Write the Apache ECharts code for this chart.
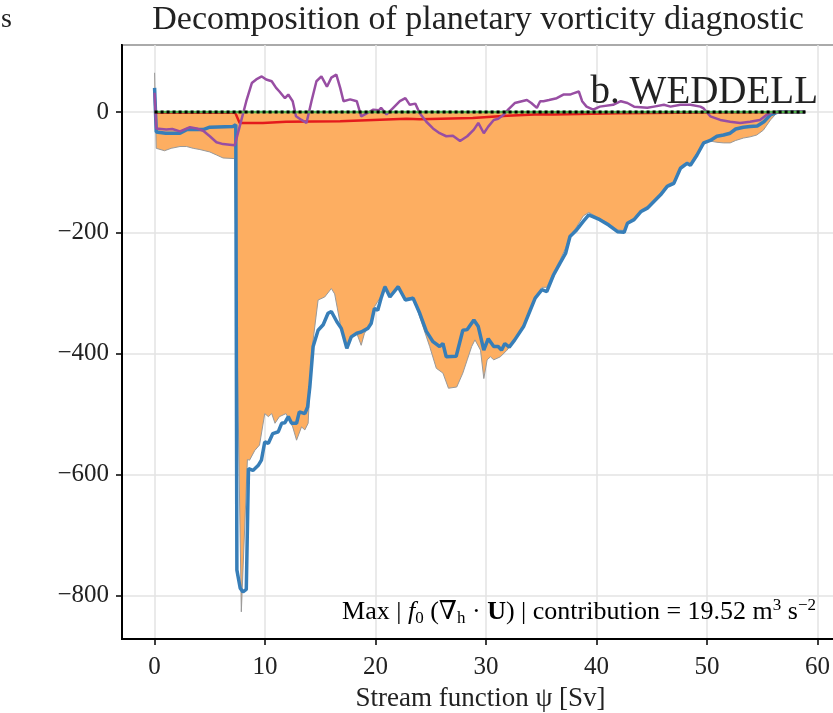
<!DOCTYPE html>
<html>
<head>
<meta charset="utf-8">
<script src="https://cdn.jsdelivr.net/npm/echarts@6/dist/echarts.min.js"></script>
<style>
  html, body { margin: 0; padding: 0; background: #ffffff; }
  #chart { width: 833px; height: 713px; }
</style>
</head>
<body>
<div id="chart"></div>
<script>
// total (orange fill, grey edge)
const psiTotal = [0, 0.15, 0.9, 1.5, 2.3, 2.9, 3.5, 4.1, 5, 5.6, 6.2, 7.25, 7.4, 7.85, 8.4, 8.6, 9.07, 9.5, 9.97, 10.3, 10.6, 10.9, 11.3, 11.9, 12.5, 12.85, 13.3, 13.6, 13.9, 14.2, 14.8, 15.4, 16.0, 16.3, 16.8, 17.4, 17.8, 18.3, 18.7, 19.0, 19.6, 19.9, 20.5, 20.85, 21.3, 22.05, 22.7, 23.4, 24.0, 24.9, 25.5, 26.1, 26.6, 27.35, 27.9, 28.3, 28.7, 29.0, 29.5, 29.8, 30.1, 30.4, 30.7, 31.3, 31.9, 32.5, 33.4, 34.0, 34.45, 35.06, 35.5, 36.1, 36.7, 37.2, 37.6, 38.2, 38.8, 39.3, 40.3, 41.1, 41.9, 42.5, 42.8, 43.4, 44.0, 44.6, 45.8, 46.4, 47.0, 47.6, 48.2, 48.5, 49.1, 49.7, 50.3, 50.9, 51.5, 52.1, 52.6, 53.3, 53.9, 54.5, 55.1, 55.75, 56.4, 58.9];
const totalVals = [65, -60, -64, -60, -57, -57, -60, -62, -66, -71, -76, -77, -300, -827, -575, -576, -560, -551, -499, -504, -499, -515, -504, -499, -521, -543, -521, -526, -515, -399, -311, -306, -292, -301, -350, -391, -372, -366, -386, -366, -350, -322, -305, -287, -303, -287, -308, -306, -339, -388, -424, -432, -457, -455, -432, -410, -388, -377, -394, -441, -410, -405, -410, -405, -394, -377, -352, -325, -305, -290, -290, -265, -245, -225, -205, -190, -172, -166, -176, -184, -195, -196, -182, -176, -162, -156, -134, -120, -115, -90, -82, -85, -68, -50, -48, -50, -51, -51, -47, -43, -41, -38, -30, -13, 0, 0];

// blue line
const psiBlue = [0, 0.15, 1, 2.3, 2.9, 4.4, 5, 7.1, 7.35, 7.45, 7.75, 8.0, 8.3, 8.5, 8.9, 9.37, 9.67, 9.97, 10.3, 10.7, 11.2, 11.5, 11.8, 12.1, 12.4, 12.85, 13.1, 13.6, 13.85, 14.05, 14.35, 14.8, 15.26, 15.7, 16.0, 16.5, 16.9, 17.4, 17.8, 18.3, 18.7, 19.3, 19.6, 19.9, 20.2, 20.5, 20.85, 21.3, 22.05, 22.7, 23.4, 24.0, 24.6, 25.2, 25.8, 26.1, 26.4, 27.3, 27.9, 28.3, 28.9, 29.3, 29.8, 30.2, 30.7, 31.1, 31.4, 31.7, 32.1, 32.6, 33.4, 34.0, 34.45, 35.06, 35.5, 36.1, 36.7, 37.2, 37.6, 38.2, 38.8, 39.3, 40.3, 41.1, 41.9, 42.5, 42.8, 43.4, 44.0, 44.6, 45.8, 46.4, 47.0, 47.6, 48.2, 48.5, 49.1, 49.7, 50.3, 50.9, 51.5, 52.1, 52.6, 53.3, 53.9, 54.55, 55.15, 55.75, 56.4, 58.9];
const blueVals = [40, -33, -35, -35, -29, -29, -25, -24, -21, -758, -788, -794, -790, -590, -593, -585, -576, -546, -548, -532, -529, -515, -514, -504, -515, -515, -496, -499, -488, -455, -388, -361, -352, -333, -330, -347, -358, -391, -372, -366, -364, -358, -350, -325, -328, -308, -289, -306, -289, -311, -308, -333, -363, -380, -388, -383, -405, -404, -361, -360, -344, -355, -394, -375, -388, -388, -394, -383, -389, -377, -355, -328, -308, -294, -297, -270, -250, -234, -206, -195, -181, -170, -178, -187, -198, -199, -184, -178, -165, -159, -137, -123, -118, -93, -85, -88, -71, -51, -47, -40, -38, -35, -28, -25, -24, -23, -16, -4.5, 0, 0];

// red line
const psiRed = [0, 7.3, 7.7, 9.8, 11.9, 16.8, 19.8, 22.8, 24, 28.8, 31.9, 34.9, 36.1, 42, 50, 58.9];
const redVals = [-1, -1, -18, -18, -16, -15, -13, -11, -12, -10, -6, -3.5, -4, -2, -0.5, 0];

// purple line
const psiPurple = [0, 0.15, 1.05, 1.6, 2.3, 3.2, 3.8, 4.4, 5.0, 5.6, 6.2, 6.8, 7.25, 7.7, 8.3, 8.8, 9.2, 9.7, 10.1, 10.6, 11.0, 11.3, 11.8, 12.1, 12.5, 12.8, 13.3, 13.75, 14.2, 14.65, 15.1, 15.6, 16.0, 16.45, 16.8, 17.1, 17.7, 18.3, 18.7, 19.2, 19.8, 20.3, 20.5, 21.0, 21.6, 22.2, 22.7, 23.1, 23.6, 24.0, 24.6, 25.2, 25.8, 26.4, 27.0, 27.65, 28.3, 28.9, 29.3, 29.8, 30.2, 30.7, 31.1, 31.6, 32.0, 32.6, 33.7, 34.1, 34.6, 34.9, 35.2, 35.7, 36.4, 37.0, 37.6, 37.9, 38.4, 38.7, 39.1, 39.7, 40.3, 41.5, 42.2, 42.8, 43.4, 44.6, 45.2, 46.1, 46.7, 47.6, 48.5, 49.4, 49.7, 50.3, 51.2, 52.1, 53.0, 53.9, 54.8, 55.4, 56.0, 58.9];
const purpleVals = [32, -27, -29, -28, -32, -25, -27, -31, -40, -50, -53, -54, -55, -24, 18, 48, 54, 59, 54, 51, 40, 34, 23, 29, 18, -7, -13, -18, 18, 51, 59, 42, 57, 62, 40, 18, 21, 18, -7, -2, 4, 3, 7, -4, 7, 18, 23, 12, 14, -2, -16, -27, -35, -40, -39, -48, -40, -29, -18, -35, -24, -13, -11, -4.5, 4, 15, 20, 15, 7, 18, 18, 20, 23, 29, 29, 31, 34, 18, 9, 4, 9, 12, 18, 15, 9, 7, 9, 12, 9, 12, 12, 9, 6, -7, -13, -16, -18, -16, -13, -4.5, 0, 0];

// zero reference lines
const psiZero = [0, 58.9];
const zeroVals = [0, 0];

const xTicks = [0, 10, 20, 30, 40, 50, 60];
const yTicks = [-800, -600, -400, -200, 0];

const zip = (xs, ys) => xs.map((x, i) => [x, ys[i]]);
const serif = '"Liberation Serif", "DejaVu Serif", serif';

const chart = echarts.init(document.getElementById('chart'));
chart.setOption({
  backgroundColor: '#ffffff',
  animation: false,
  grid: {
    left: 122, top: 45, width: 717, height: 594,
    outerBoundsMode: 'none', containLabel: false,
    show: true, borderColor: '#000', borderWidth: 2, backgroundColor: 'transparent'
  },
  xAxis: {
    type: 'value', min: -2.95, max: 61.95, splitNumber: 6,
    name: 'Stream function ψ [Sv]', nameLocation: 'middle', nameGap: 46,
    nameTextStyle: { fontFamily: serif, fontSize: 27, color: '#222' },
    axisLine: { onZero: false, lineStyle: { color: '#000', width: 2 } },
    axisTick: { length: 6, lineStyle: { color: '#000', width: 1.5 } },
    axisLabel: {
      margin: 16, fontFamily: serif, fontSize: 25, color: '#222',
      showMinLabel: false, showMaxLabel: false,
      formatter: v => xTicks.includes(v) ? String(v) : ''
    },
    splitLine: { show: true, lineStyle: { color: '#e3e3e3', width: 1.5 } }
  },
  yAxis: {
    type: 'value', min: -872, max: 111, splitNumber: 5,
    axisLine: { onZero: false, lineStyle: { color: '#000', width: 2 } },
    axisTick: { length: 6, lineStyle: { color: '#000', width: 1.5 } },
    axisLabel: {
      margin: 13, fontFamily: serif, fontSize: 25, color: '#222',
      showMinLabel: false, showMaxLabel: false,
      formatter: v => yTicks.includes(v) ? String(v).replace('-', '\u2212') : ''
    },
    splitLine: { show: true, lineStyle: { color: '#e3e3e3', width: 1.5 } }
  },
  graphic: [
    { type: 'text', x: 478, y: 37, style: { text: 'Decomposition of planetary vorticity diagnostic', font: '34px ' + serif, fill: '#222', textAlign: 'center', textVerticalAlign: 'bottom' } },
    { type: 'text', x: 1, y: 34, style: { text: 's', font: '28px ' + serif, fill: '#222', textVerticalAlign: 'bottom' } },
    { type: 'text', x: 818, y: 112, z: 100, style: { text: 'b. WEDDELL', font: '39px ' + serif, fill: '#222', textAlign: 'right', textVerticalAlign: 'bottom' } },
    { type: 'text', x: 816, y: 627, z: 100, style: {
        text: '{n|Max | }{i|f}{sub|0}{n| (∇}{sub|h}{n| · }{b|U}{n|) | contribution = 19.52 m}{sup|3}{n| s}{sup|\u22122}',
        textAlign: 'right', textVerticalAlign: 'bottom',
        rich: {
          n: { fontFamily: serif, fontSize: 26, lineHeight: 30, color: '#222', verticalAlign: 'middle' },
          i: { fontFamily: serif, fontSize: 26, lineHeight: 30, fontStyle: 'italic', color: '#222', verticalAlign: 'middle' },
          b: { fontFamily: serif, fontSize: 26, lineHeight: 30, fontWeight: 'bold', color: '#222', verticalAlign: 'middle' },
          sub: { fontFamily: serif, fontSize: 17, lineHeight: 17, color: '#222', verticalAlign: 'bottom' },
          sup: { fontFamily: serif, fontSize: 17, lineHeight: 17, color: '#222', verticalAlign: 'top' }
        }
      } }
  ],
  series: [
    { type: 'line', data: zip(psiTotal, totalVals), symbol: 'none', z: 2,
      lineStyle: { color: '#999999', width: 1 },
      areaStyle: { color: '#fdae61', opacity: 1, origin: 0 } },
    { type: 'line', data: zip(psiBlue, blueVals), symbol: 'none', z: 3,
      lineStyle: { color: '#377eb8', width: 3.5 } },
    { type: 'line', data: zip(psiRed, redVals), symbol: 'none', z: 4,
      lineStyle: { color: '#e41a1c', width: 2.5 } },
    { type: 'line', data: zip(psiPurple, purpleVals), symbol: 'none', z: 5,
      lineStyle: { color: '#984ea3', width: 2.5 } },
    { type: 'line', data: zip(psiZero, zeroVals), symbol: 'none', z: 6,
      lineStyle: { color: '#4daf4a', width: 2.5 } },
    { type: 'line', data: zip(psiZero, zeroVals), symbol: 'none', z: 7,
      lineStyle: { color: '#000000', width: 3, type: [3, 3] } }
  ]
});
</script>
</body>
</html>
